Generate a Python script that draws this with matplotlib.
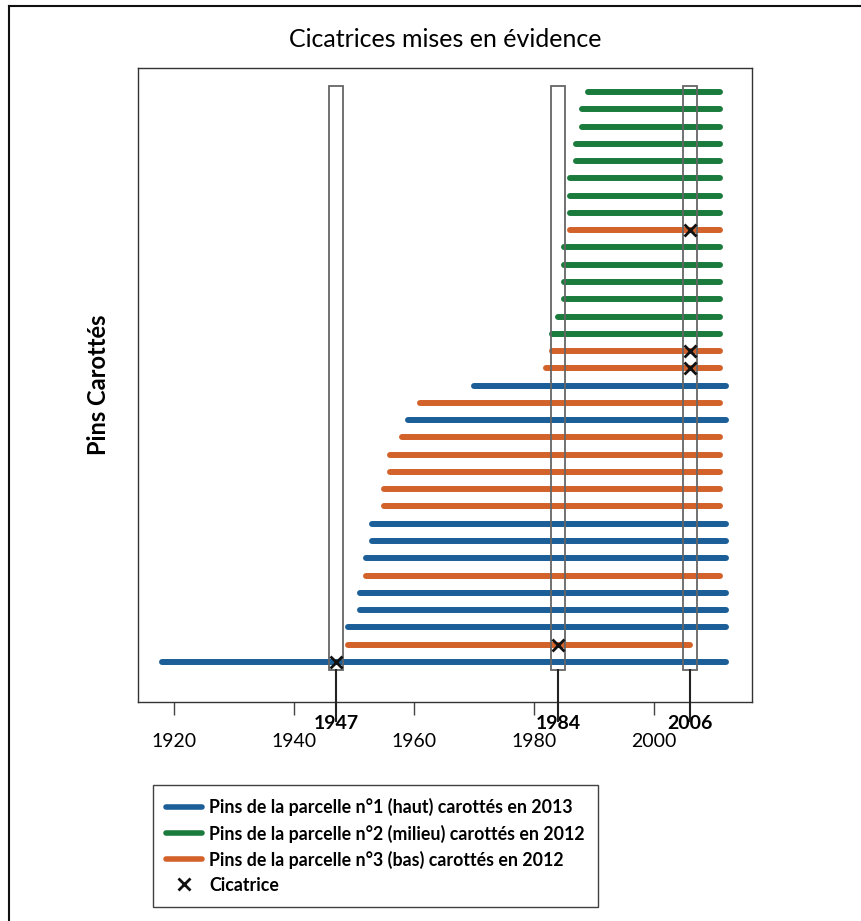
import matplotlib
matplotlib.use('Agg')
import matplotlib.pyplot as plt
from matplotlib.patches import Rectangle
from matplotlib.lines import Line2D

# rows listed from bottom to top
parcelle = [1, 3, 1, 1, 1, 3, 1, 1, 1, 3, 3, 3, 3, 3, 1, 3, 1,
            3, 3, 2, 2, 2, 2, 2, 2, 3, 2, 2, 2, 2, 2, 2, 2, 2]
debut = [1918, 1949, 1949, 1951, 1951, 1952, 1952, 1953, 1953, 1955, 1955,
         1956, 1956, 1958, 1959, 1961, 1970,
         1982, 1983, 1983, 1984, 1985, 1985, 1985, 1985, 1986, 1986, 1986,
         1986, 1987, 1987, 1988, 1988, 1989]
fin = [2012, 2006, 2012, 2012, 2012, 2011, 2012, 2012, 2012, 2011, 2011,
       2011, 2011, 2011, 2012, 2011, 2012,
       2011, 2011, 2011, 2011, 2011, 2011, 2011, 2011, 2011, 2011, 2011,
       2011, 2011, 2011, 2011, 2011, 2011]
cicatrice_rang = [0, 1, 17, 18, 25]
cicatrice_annee = [1947, 1984, 2006, 2006, 2006]
annees_marquees = [1947, 1984, 2006]
ticks_x = [1920, 1940, 1960, 1980, 2000]

couleurs = {1: '#1b5e98', 2: '#1b7b3d', 3: '#d2622a'}
libelles = {1: 'Pins de la parcelle n°1 (haut) carottés en 2013',
            2: 'Pins de la parcelle n°2 (milieu) carottés en 2012',
            3: 'Pins de la parcelle n°3 (bas) carottés en 2012'}

plt.rcParams['font.family'] = ['Lato', 'DejaVu Sans']

fig = plt.figure(figsize=(8.61, 9.21), dpi=100)
ax = fig.add_axes([138/861, 1-702/921, 614/861, 634/921])

for i in range(len(debut)):
    ax.plot([debut[i], fin[i]], [i, i], color=couleurs[parcelle[i]], lw=4.3,
            solid_capstyle='round', zorder=2)

ax.plot(cicatrice_annee, cicatrice_rang, 'x', color='#111111', ms=9, mew=2, zorder=5)

ylo, yhi = -2.32, 34.39
for a in annees_marquees:
    ax.add_patch(Rectangle((a - 1.15, -0.47), 2.3, 33.82, fill=False,
                           edgecolor='#666666', lw=1.3, zorder=4))
    ax.plot([a, a], [-0.47, -3.4], color='#222222', lw=1.5, clip_on=False, zorder=4)

ax.set_xlim(1914, 2016.3)
ax.set_ylim(ylo, yhi)
ax.set_yticks([])

ax.set_xticks(ticks_x)
ax.set_xticklabels([str(t) for t in ticks_x], fontsize=14)
ax.tick_params(axis='x', which='major', length=9, width=1, color='#444444', pad=13)
ax.set_xticks(annees_marquees, minor=True)
ax.set_xticklabels([str(a) for a in annees_marquees], minor=True,
                   fontsize=14, fontweight='bold')
ax.tick_params(axis='x', which='minor', length=0, pad=9)

for s in ax.spines.values():
    s.set_color('#333333')
    s.set_linewidth(1)

ax.set_title('Cicatrices mises en évidence', fontsize=18, pad=15)
ax.set_ylabel('Pins Carottés', fontsize=17, fontweight='bold', labelpad=20)

poignees = [Line2D([], [], color=couleurs[k], lw=4, solid_capstyle='round') for k in (1, 2, 3)]
poignees.append(Line2D([], [], color='#111111', marker='x', ls='none', ms=8, mew=2))
textes = [libelles[k] for k in (1, 2, 3)] + ['Cicatrice']
leg = fig.legend(poignees, textes, loc='upper left',
                 bbox_to_anchor=(153/861, 1-785/921), borderaxespad=0,
                 frameon=True, fancybox=False, edgecolor='#111111',
                 prop={'weight': 'bold', 'size': 12.8}, handlelength=2.0,
                 handletextpad=0.4, labelspacing=0.45, borderpad=0.75)
leg.get_frame().set_linewidth(1)

# cadre de l'image (haut et gauche)
fig.add_artist(Line2D([9/861, 9/861], [0, 1-6/921], transform=fig.transFigure,
                      color='#111111', lw=1.5))
fig.add_artist(Line2D([9/861, 1], [1-6/921, 1-6/921], transform=fig.transFigure,
                      color='#111111', lw=1.5))

fig.savefig('out.png', dpi=100)
